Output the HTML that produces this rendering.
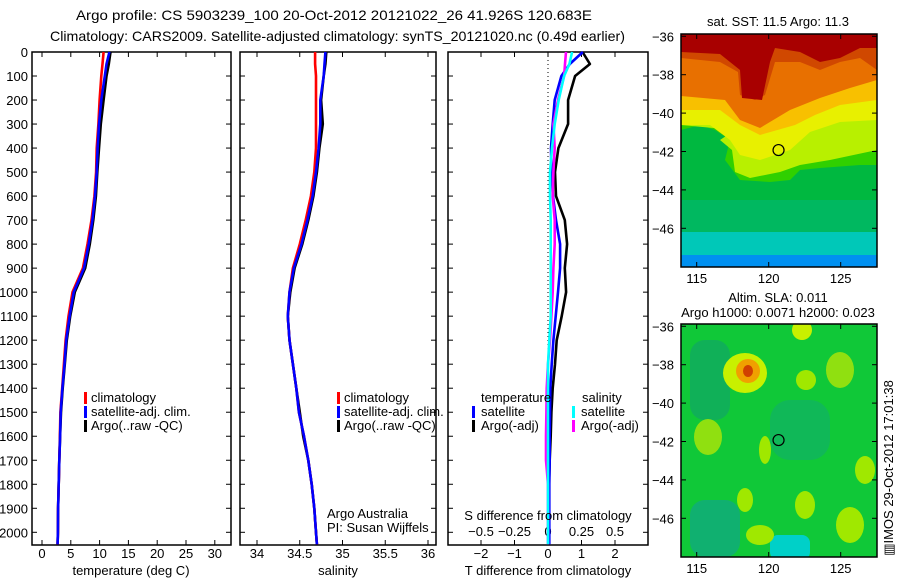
<!DOCTYPE html>
<html><head><meta charset="utf-8"><style>
html,body{margin:0;padding:0;background:#fff;}
svg{display:block;font-family:"Liberation Sans",sans-serif;}
text{fill:#000;}
</style></head><body>
<svg id="chart" width="900" height="580" viewBox="0 0 900 580" xmlns="http://www.w3.org/2000/svg">
<text x="76" y="20" font-size="14" textLength="516" lengthAdjust="spacingAndGlyphs">Argo profile: CS 5903239_100 20-Oct-2012 20121022_26 41.926S 120.683E</text>
<text x="50" y="41" font-size="14" textLength="575" lengthAdjust="spacingAndGlyphs">Climatology: CARS2009. Satellite-adjusted climatology: synTS_20121020.nc (0.49d earlier)</text>
<g id="maps"></g>
<g id="plots"></g>
</svg>
<script>
// ---- data ----
const depths = [0,50,100,200,300,400,500,600,700,800,900,1000,1100,1200,1300,1400,1500,1600,1700,1800,1900,2000,2050];
const tempClim = [10.7,10.5,10.3,10.0,9.8,9.5,9.4,9.1,8.6,7.9,7.1,5.3,4.6,4.1,3.8,3.5,3.2,3.1,3.0,2.9,2.8,2.76,2.7];
const tempSat  = [11.7,11.2,10.9,10.3,9.9,9.65,9.5,9.2,8.75,8.1,7.3,5.5,4.8,4.2,3.9,3.55,3.25,3.15,3.0,2.9,2.8,2.76,2.7];
const tempArgo = [11.9,11.6,11.2,10.7,10.2,9.9,9.6,9.35,8.9,8.3,7.5,5.7,4.9,4.3,3.95,3.6,3.3,3.15,3.0,2.9,2.8,2.76,2.7];
const salClim = [34.68,34.68,34.69,34.69,34.69,34.69,34.67,34.63,34.57,34.5,34.42,34.38,34.36,34.38,34.42,34.46,34.49,34.55,34.6,34.64,34.67,34.69,34.7];
const salSat  = [34.8,34.79,34.78,34.74,34.74,34.72,34.69,34.65,34.59,34.52,34.43,34.38,34.36,34.38,34.42,34.46,34.49,34.55,34.6,34.64,34.67,34.69,34.7];
const salArgo = [34.81,34.8,34.78,34.75,34.77,34.73,34.7,34.66,34.6,34.53,34.44,34.39,34.36,34.38,34.42,34.46,34.5,34.54,34.6,34.64,34.67,34.69,34.7];
const dTsat  = [1.04,0.65,0.4,0.2,0.14,0.09,0.1,0.15,0.24,0.36,0.36,0.3,0.23,0.16,0.11,0.07,0.06,0.05,0.05,0.04,0.04,0.04,0.04];
const dTargo = [1.03,1.25,0.81,0.6,0.6,0.31,0.21,0.24,0.5,0.57,0.5,0.54,0.41,0.26,0.21,0.14,0.1,0.08,0.05,0.03,0.02,0.02,0.02];
const dSsat  = [0.18,0.16,0.12,0.08,0.05,0.03,0.015,0.015,0.02,0.02,0.02,0.02,0.02,0.01,0.0,0.0,0.0,0.0,0.0,0.0,0.0,0.0,0.0];
const dSargo = [0.134,0.127,0.12,0.075,0.04,0.05,0.04,0.035,0.05,0.05,0.04,0.035,0.025,0.015,0.0,-0.01,-0.012,-0.015,-0.015,0.0,0.0,0.0,0.0];
const depthTicks = [0,100,200,300,400,500,600,700,800,900,1000,1100,1200,1300,1400,1500,1600,1700,1800,1900,2000];
const tempTicks = [0,5,10,15,20,25,30];
const salTicks = [34,34.5,35,35.5,36];
const salTickLabels = ["34","34.5","35","35.5","36"];
const dTTicks = [-2,-1,0,1,2];
const dSTicks = [-0.5,-0.25,0,0.25,0.5];
const dSTickLabels = ["\u22120.5","\u22120.25","0","0.25","0.5"];
const latTicks = [-36,-38,-40,-42,-44,-46];
const lonTicks = [115,120,125];
const argoLon = 120.683, argoLat = -41.926;

const NS='http://www.w3.org/2000/svg';
const plots=document.getElementById('plots');
function mk(tag,attrs,parent,txt){const e=document.createElementNS(NS,tag);for(const k in attrs)e.setAttribute(k,attrs[k]);if(txt!==undefined)e.textContent=txt;(parent||plots).appendChild(e);return e;}

const yTop=52, yBot=545;
const yD = d => yTop + d*0.24015;
const P1={x0:32,x1:231}, P2={x0:240,x1:436}, P3={x0:448,x1:648};
const xT = t => 42 + 5.76*t;
const xS = s => 257 + 85.5*(s-34);
const xdT = t => 548 + 33.5*t;
const xdS = s => 548 + 134*s;

function panel(P,name){
  const r=mk('rect',{x:P.x0,y:yTop,width:P.x1-P.x0,height:yBot-yTop,fill:'none',stroke:'#000','stroke-width':1.5});
  
  
  depthTicks.forEach(d=>{
    const t1=mk('line',{x1:P.x0,x2:P.x0+5,y1:yD(d),y2:yD(d),stroke:'#000'});
    
    
    const t2=mk('line',{x1:P.x1-5,x2:P.x1,y1:yD(d),y2:yD(d),stroke:'#000'});
    
    
  });
}
function xticks(P,fx,vals,labels,ly){
  vals.forEach((v,i)=>{
    const x=fx(v);
    const a=mk('line',{x1:x,x2:x,y1:yBot-5,y2:yBot,stroke:'#000'});
    
    
    const b=mk('line',{x1:x,x2:x,y1:yTop,y2:yTop+5,stroke:'#000'});
    
    
    if(labels){
      const t=mk('text',{x:x,y:ly,'font-size':13,'text-anchor':'middle'},plots,labels[i]);
      
      
    }
  });
}
function line(vals,fx,color,name,w){
  const pts=vals.map((v,i)=>fx(v).toFixed(1)+','+yD(depths[i]).toFixed(1)).join(' ');
  const l=mk('polyline',{points:pts,fill:'none',stroke:color,'stroke-width':w||2.6,'stroke-linejoin':'round'});
  
  
}
function txt(x,y,s,name,anchor,size){
  const t=mk('text',{x:x,y:y,'font-size':size||13,'text-anchor':anchor||'start'},plots,s);
  
  
  return t;
}
function bar(x,y,color,name){
  const b=mk('rect',{x:x,y:y-10,width:3,height:12,fill:color});
  
  
}

// Panel 1
panel(P1,'temperature-panel');
depthTicks.forEach(d=>{
  const t=txt(28,yD(d)+5,String(d),'depth-tick-label','end');
});
xticks(P1,xT,tempTicks,tempTicks.map(String),558);
line(tempArgo,xT,'#000','temp-argo-line');
line(tempClim,xT,'#f00','temp-climatology-line');
line(tempSat,xT,'#00f','temp-satellite-line');
txt(131,575,'temperature (deg C)','temperature-axis-title','middle');
bar(84,402,'#f00','legend-climatology-swatch');txt(91,402,'climatology','legend-climatology');
bar(84,416,'#00f','legend-satellite-swatch');txt(91,416,'satellite-adj. clim.','legend-satellite');
bar(84,430,'#000','legend-argo-swatch');txt(91,430,'Argo(..raw -QC)','legend-argo');

// Panel 2
panel(P2,'salinity-panel');
xticks(P2,xS,salTicks,salTickLabels,558);
line(salArgo,xS,'#000','sal-argo-line');
line(salClim,xS,'#f00','sal-climatology-line');
line(salSat,xS,'#00f','sal-satellite-line');
txt(338,575,'salinity','salinity-axis-title','middle');
bar(337,402,'#f00','legend-climatology-swatch');txt(344,402,'climatology','legend-climatology');
bar(337,416,'#00f','legend-satellite-swatch');txt(344,416,'satellite-adj. clim.','legend-satellite');
bar(337,430,'#000','legend-argo-swatch');txt(344,430,'Argo(..raw -QC)','legend-argo');
txt(327,518,'Argo Australia','credit-argo-australia');
txt(327,532,'PI: Susan Wijffels','credit-pi');

// Panel 3
panel(P3,'difference-panel');
xticks(P3,xdT,dTTicks,dTTicks.map(v=>v<0?'\u2212'+(-v):String(v)),558);
dSTicks.forEach((v,i)=>{txt(xdS(v),536,dSTickLabels[i],'s-diff-tick-label','middle');});
const dz=mk('line',{x1:548,x2:548,y1:yTop,y2:yBot,stroke:'#000','stroke-width':1,'stroke-dasharray':'1,3'});


line(dTargo,xdT,'#000','t-diff-argo-line');
line(dTsat,xdT,'#00f','t-diff-satellite-line');
line(dSargo,xdS,'#f0f','s-diff-argo-line');
line(dSsat,xdS,'#0ff','s-diff-satellite-line');
txt(548,520,'S difference from climatology','s-diff-axis-title','middle');
txt(548,575,'T difference from climatology','t-diff-axis-title','middle');
txt(481,402,'temperature','legend-temperature-header');
bar(472,416,'#00f','legend-t-satellite-swatch');txt(481,416,'satellite','legend-t-satellite');
bar(472,430,'#000','legend-t-argo-swatch');txt(481,430,'Argo(-adj)','legend-t-argo');
txt(582,402,'salinity','legend-salinity-header');
bar(572,416,'#0ff','legend-s-satellite-swatch');txt(581,416,'satellite','legend-s-satellite');
bar(572,430,'#f0f','legend-s-argo-swatch');txt(581,430,'Argo(-adj)','legend-s-argo');

// ---- Maps ----
const maps=document.getElementById('maps');
const MX0=681, MX1=877;
const lonX = lo => 696.7 + (lo-115)*14.4;
function mapFrame(top,name,shapes){
  const g=mk('g',{},maps);
  
  
  const latY = la => top + 2.3 + (-36-la)*19.2;
  const cp=mk('clipPath',{id:name+'-clip'},g);
  mk('rect',{x:MX0,y:top,width:MX1-MX0,height:233},cp);
  const inner=mk('g',{'clip-path':'url(#'+name+'-clip)'},g);
  shapes.forEach(s=>{const e=mk(s[0],s[1],inner);});
  const c=mk('circle',{cx:lonX(argoLon),cy:latY(argoLat),r:5.5,fill:'none',stroke:'#000','stroke-width':1.2},g);
  
  
  const fr=mk('rect',{x:MX0,y:top,width:MX1-MX0,height:233,fill:'none',stroke:'#000','stroke-width':1.5},g);
  latTicks.forEach(la=>{
    const y=latY(la);
    mk('line',{x1:MX0,x2:MX0+5,y1:y,y2:y,stroke:'#000'},g);
    mk('line',{x1:MX1-5,x2:MX1,y1:y,y2:y,stroke:'#000'},g);
    const t=mk('text',{x:674,y:y+5,'font-size':13,'text-anchor':'end'},g,'\u2212'+(-la));
    
    
  });
  lonTicks.forEach(lo=>{
    const x=lonX(lo);
    mk('line',{x1:x,x2:x,y1:top,y2:top+5,stroke:'#000'},g);
    mk('line',{x1:x,x2:x,y1:top+228,y2:top+233,stroke:'#000'},g);
    const t=mk('text',{x:x,y:top+249,'font-size':13,'text-anchor':'middle'},g,String(lo));
    
    
  });
}
const T0=34;
mapFrame(T0,'sst-map',[
  ['rect',{x:681,y:34,width:196,height:233,fill:'#00b840'}],
  ['rect',{x:681,y:200,width:196,height:40,fill:'#00b860'}],
  ['rect',{x:681,y:232,width:196,height:35,fill:'#00c8b8'}],
  ['rect',{x:681,y:255,width:196,height:12,fill:'#0090f0'}],
  ['path',{d:'M681,34 H877 V165 L860,165 L820,168 L800,170 L790,180 L770,182 L740,180 L725,160 L730,140 L715,130 L700,125 L681,130 Z',fill:'#30d000'}],
  ['path',{d:'M681,34 H877 V150 L830,160 L800,165 L780,172 L750,178 L735,172 L732,150 L720,140 L735,130 L681,125 Z',fill:'#b8f000'}],
  ['path',{d:'M681,34 H877 V120 L840,122 L810,132 L790,150 L760,160 L740,155 L730,140 L710,125 L681,125 Z',fill:'#e8f000'}],
  ['path',{d:'M681,34 H877 V100 L840,105 L815,115 L795,125 L760,135 L740,125 L720,110 L681,110 Z',fill:'#f8c000'}],
  ['path',{d:'M681,34 H877 V80 L850,88 L820,98 L790,110 L760,128 L740,120 L725,100 L681,96 Z',fill:'#e87000'}],
  ['path',{d:'M681,34 H877 V70 L860,58 L840,62 L820,70 L800,62 L775,62 L765,95 L755,100 L740,95 L738,72 L720,62 L681,58 Z',fill:'#d04800'}],
  ['path',{d:'M681,34 H877 V48 L860,48 L840,58 L820,62 L800,52 L775,48 L770,62 L762,100 L742,98 L740,70 L720,54 L681,52 Z',fill:'#a80000'}]
]);
const B0=324;
mapFrame(B0,'sla-map',[
  ['rect',{x:681,y:324,width:196,height:233,fill:'#10c838'}],
  ['rect',{x:690,y:340,width:40,height:80,fill:'#10b058',rx:15}],
  ['rect',{x:770,y:400,width:60,height:60,fill:'#10b858',rx:20}],
  ['rect',{x:690,y:500,width:50,height:57,fill:'#10b070',rx:15}],
  ['rect',{x:770,y:535,width:40,height:25,fill:'#00d0c8',rx:8}],
  ['ellipse',{cx:840,cy:370,rx:14,ry:18,fill:'#90e010'}],
  ['ellipse',{cx:708,cy:437,rx:14,ry:18,fill:'#90e010'}],
  ['ellipse',{cx:745,cy:373,rx:22,ry:20,fill:'#c8f000'}],
  ['ellipse',{cx:748,cy:371,rx:12,ry:12,fill:'#f0a000'}],
  ['ellipse',{cx:748,cy:371,rx:5,ry:6,fill:'#d04000'}],
  ['ellipse',{cx:802,cy:330,rx:10,ry:10,fill:'#c8f000'}],
  ['ellipse',{cx:806,cy:380,rx:10,ry:10,fill:'#a0e800'}],
  ['ellipse',{cx:765,cy:450,rx:6,ry:14,fill:'#a0e800'}],
  ['ellipse',{cx:805,cy:505,rx:10,ry:14,fill:'#a0e800'}],
  ['ellipse',{cx:745,cy:500,rx:8,ry:12,fill:'#a0e800'}],
  ['ellipse',{cx:850,cy:525,rx:14,ry:18,fill:'#a0e800'}],
  ['ellipse',{cx:760,cy:535,rx:14,ry:10,fill:'#a0e800'}],
  ['ellipse',{cx:865,cy:470,rx:10,ry:14,fill:'#a0e800'}]
]);
function mtxt(x,y,s,name){const t=mk('text',{x:x,y:y,'font-size':13,'text-anchor':'middle'},maps,s);}
mtxt(778,26,'sat. SST: 11.5 Argo: 11.3','sst-map-title');
mtxt(778,302,'Altim. SLA: 0.011','sla-map-title');
mtxt(778,317,'Argo h1000: 0.0071 h2000: 0.023','sla-map-subtitle');
const rt=mk('text',{x:0,y:0,'font-size':13,'text-anchor':'middle',transform:'translate(893,468) rotate(-90)'},maps,'\u25a5IMOS 29-Oct-2012 17:01:38');


</script>
</body></html>
